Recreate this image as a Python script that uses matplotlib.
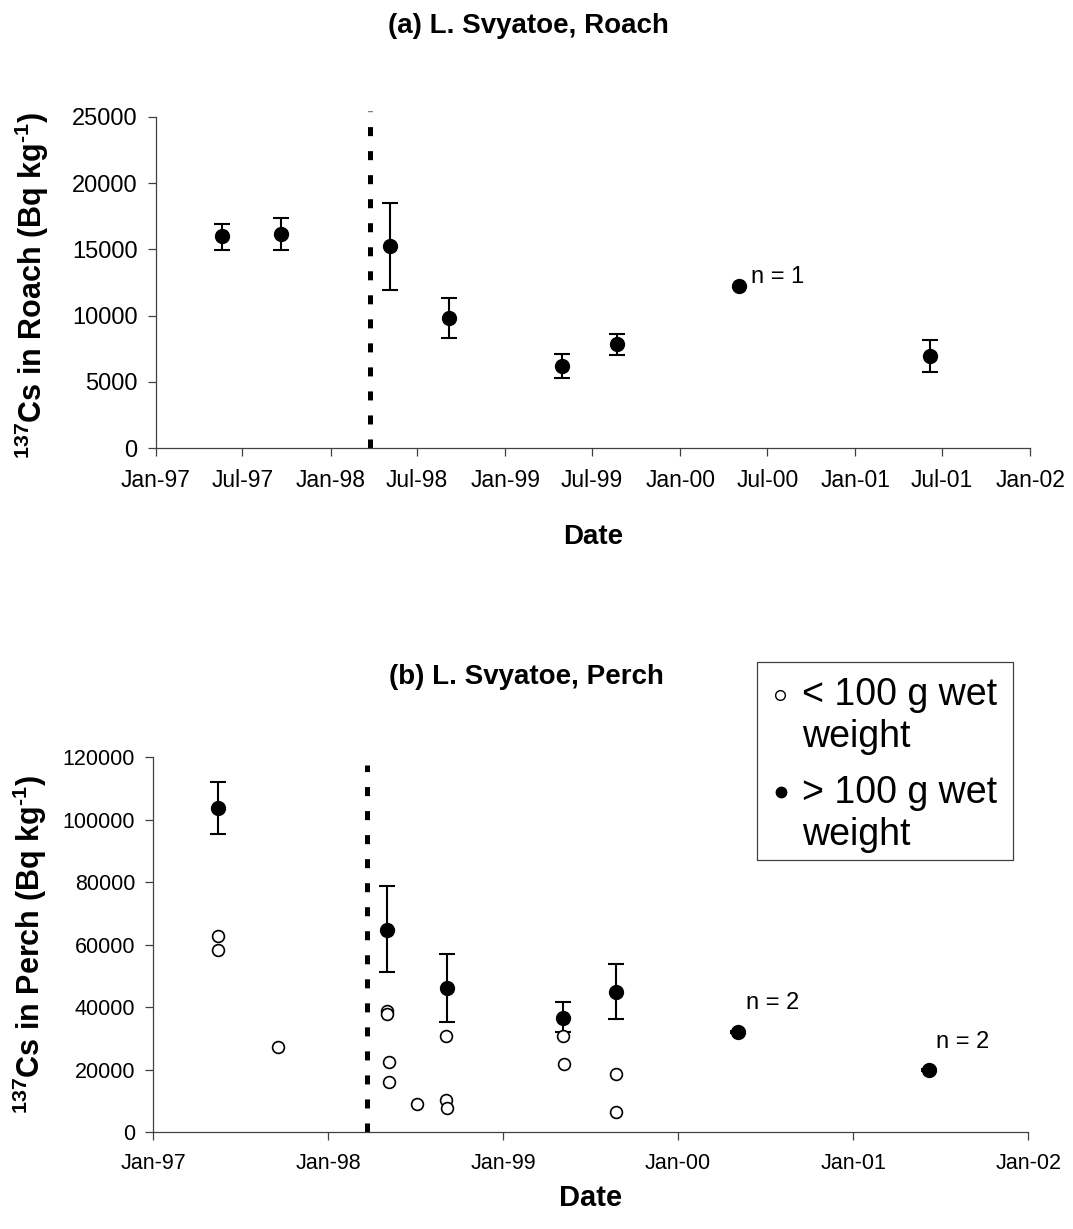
import matplotlib
matplotlib.use('Agg')
import matplotlib.pyplot as plt
import matplotlib.dates as mdates
from matplotlib.lines import Line2D
from matplotlib.patches import Rectangle
import numpy as np
import pandas as pd

plt.rcParams['font.family'] = ['Liberation Sans', 'DejaVu Sans']
plt.rcParams['mathtext.fontset'] = 'custom'
plt.rcParams['mathtext.rm'] = 'Liberation Sans:bold'
plt.rcParams['mathtext.bf'] = 'Liberation Sans:bold'
plt.rcParams['mathtext.it'] = 'Liberation Sans:bold'
plt.rcParams['mathtext.default'] = 'bf'
plt.rcParams['lines.scale_dashes'] = False

# ---------------- data ----------------
# (a) Roach
roach_dates = ['1997-05-19', '1997-09-20', '1998-05-05', '1998-09-06',
               '1999-04-30', '1999-08-22', '2000-05-02', '2001-06-06']
roach_mean = [15970, 16150, 15220, 9800, 6240, 7850, 12260, 6950]
roach_upper = [16900, 17350, 18530, 11310, 7120, 8630, np.nan, 8200]
roach_lower = [14920, 14920, 11910, 8330, 5290, 7070, np.nan, 5740]
roach_notes = ['', '', '', '', '', '', 'n = 1', '']

# (b) Perch > 100 g wet weight
perch_big_dates = ['1997-05-17', '1998-05-04', '1998-09-05', '1999-05-05',
                   '1999-08-25', '2000-05-05', '2001-06-08']
perch_big_mean = [103860, 64650, 46160, 36700, 45020, 32030, 19970]
perch_big_upper = [112200, 78750, 56960, 41820, 53980, 32330, 20270]
perch_big_lower = [95420, 51180, 35160, 32220, 36190, 31730, 19670]
perch_big_notes = ['', '', '', '', '', 'n = 2', 'n = 2']

# (b) Perch < 100 g wet weight
perch_small_dates = ['1997-05-17', '1997-05-17', '1997-09-19', '1998-05-04',
                     '1998-05-04', '1998-05-07', '1998-05-07', '1998-07-05',
                     '1998-09-03', '1998-09-03', '1998-09-05', '1999-05-05',
                     '1999-05-08', '1999-08-25', '1999-08-25']
perch_small_vals = [62730, 58450, 27460, 38680, 37800, 22440, 16030, 8980,
                    30670, 10260, 7800, 30850, 21890, 18780, 6620]

event_date = '1998-03-24'
roach_event_top = 25400
perch_event_top = 117500

legend_labels = ['< 100 g wet', 'weight', '> 100 g wet', 'weight']

roach_yticks = [0, 5000, 10000, 15000, 20000, 25000]
perch_yticks = [0, 20000, 40000, 60000, 80000, 100000, 120000]
x_start, x_end = '1997-01-01', '2002-01-01'

# ---------------- figure ----------------
W, H = 1073, 1229
fig = plt.figure(figsize=(W / 100, H / 100), dpi=100)

def fx(px):
    return px / W

def fy(py):
    return 1 - py / H

axis_col = '#404040'

def style_axes(ax, ysize, xsize):
    for s in ['top', 'right']:
        ax.spines[s].set_visible(False)
    for s in ['left', 'bottom']:
        ax.spines[s].set_color(axis_col)
        ax.spines[s].set_linewidth(0.9)
    ax.tick_params(direction='out', length=6, width=0.9, color=axis_col,
                   labelcolor='black')
    ax.tick_params(axis='y', pad=7, labelsize=ysize)
    ax.tick_params(axis='x', pad=9, labelsize=xsize)
    ax.set_xlim(pd.Timestamp(x_start), pd.Timestamp(x_end))


def draw_series(ax, dates, mean, upper, lower, notes, offsets):
    d = pd.to_datetime(dates)
    m = np.array(mean, float)
    up = np.array(upper, float)
    lo = np.array(lower, float)
    has = ~np.isnan(up)
    ax.errorbar(d[has], m[has], yerr=[m[has] - lo[has], up[has] - m[has]],
                fmt='o', color='black', ms=10, capsize=6, elinewidth=1.5,
                capthick=1.5, zorder=3)
    if (~has).any():
        ax.plot(d[~has], m[~has], 'o', color='black', ms=10, zorder=3)
    k = 0
    for xi, yi, t in zip(d, m, notes):
        if t:
            ax.annotate(t, (xi, yi), xytext=offsets[k], textcoords='offset points',
                        fontsize=17, ha='left', va='center')
            k += 1


def event_line(ax, top):
    ev = pd.Timestamp(event_date)
    ax.plot([ev, ev], [0, top], color='black', lw=3.6, dashes=(6.5, 10.8),
            clip_on=False, zorder=2)

# ---- (a) Roach ----
ax1 = fig.add_axes([fx(155.7), fy(448.3), fx(1030.3) - fx(155.7), fy(116.7) - fy(448.3)])
style_axes(ax1, 17, 16.5)
ax1.set_ylim(0, 25000)
ax1.set_yticks(roach_yticks)
ax1.xaxis.set_major_locator(mdates.MonthLocator(bymonth=[1, 7]))
ax1.xaxis.set_major_formatter(mdates.DateFormatter('%b-%y'))
event_line(ax1, roach_event_top)
draw_series(ax1, roach_dates, roach_mean, roach_upper, roach_lower, roach_notes,
            offsets=[(9, 6)])

# ---- (b) Perch ----
ax2 = fig.add_axes([fx(153.3), fy(1132.3), fx(1028.3) - fx(153.3), fy(757.4) - fy(1132.3)])
style_axes(ax2, 15.5, 15.5)
ax2.set_ylim(0, 120000)
ax2.set_yticks(perch_yticks)
ax2.xaxis.set_major_locator(mdates.YearLocator())
ax2.xaxis.set_major_formatter(mdates.DateFormatter('%b-%y'))
event_line(ax2, perch_event_top)
ax2.plot(pd.to_datetime(perch_small_dates), perch_small_vals, 'o', ms=8.5,
         mfc='white', mec='black', mew=1.2, linestyle='none', zorder=4)
draw_series(ax2, perch_big_dates, perch_big_mean, perch_big_upper, perch_big_lower,
            perch_big_notes, offsets=[(6, 21), (5, 20)])

# ---- texts ----
fig.text(fx(528), fy(26), '(a) L. Svyatoe, Roach', ha='center', va='center',
         fontsize=20, fontweight='bold')
fig.text(fx(526), fy(677), '(b) L. Svyatoe, Perch', ha='center', va='center',
         fontsize=20, fontweight='bold')
fig.text(fx(593), fy(537), 'Date', ha='center', va='center', fontsize=20,
         fontweight='bold')
fig.text(fx(591), fy(1198), 'Date', ha='center', va='center', fontsize=21,
         fontweight='bold')
fig.text(fx(32), fy(285), r'$^{137}$Cs in Roach (Bq kg$^{\text{-}1}$)',
         rotation=90, ha='center', va='center', fontsize=22, fontweight='bold')
fig.text(fx(30), fy(945), r'$^{137}$Cs in Perch (Bq kg$^{\text{-}1}$)',
         rotation=90, ha='center', va='center', fontsize=22, fontweight='bold')

# ---- legend (manual box) ----
fig.patches.append(Rectangle((fx(757), fy(860)), fx(1013) - fx(757), fy(662) - fy(860),
                             transform=fig.transFigure, fill=False,
                             edgecolor=axis_col, lw=0.9))
for lab, yb in zip(legend_labels, [705, 747, 803, 845]):
    fig.text(fx(802), fy(yb), lab, ha='left', va='baseline', fontsize=27)
fig.lines.append(Line2D([fx(780)], [fy(695)], transform=fig.transFigure, marker='o',
                        ms=7, mfc='white', mec='black', mew=1.0, linestyle='none'))
fig.lines.append(Line2D([fx(781)], [fy(792)], transform=fig.transFigure, marker='o',
                        ms=7.5, mfc='black', mec='black', linestyle='none'))

fig.savefig('out.png', dpi=100, facecolor='white')
